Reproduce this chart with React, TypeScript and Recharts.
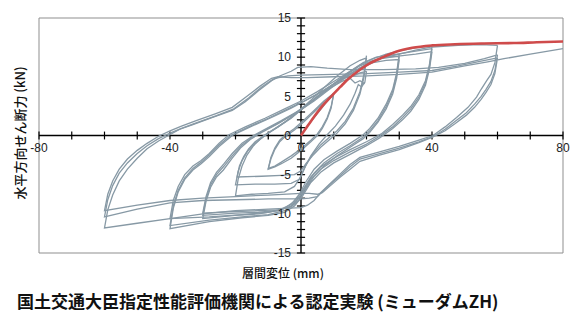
import React from "react";
import {
  CartesianGrid,
  Line,
  LineChart,
  ReferenceDot,
  ReferenceLine,
  XAxis,
  YAxis,
} from "recharts";

type Pt = [number, number];

// axis ticks
const xTicks = [-80, -40, 0, 40, 80];
const yTicks = [-15, -10, -5, 0, 5, 10, 15];
const xMinorTicks = [-80, -70, -60, -50, -40, -30, -20, -10, 10, 20, 30, 40, 50, 60, 70, 80];
const yMinorTicks = [-15, -14, -13, -12, -11, -10, -9, -8, -7, -6, -5, -4, -3, -2, -1, 1, 2, 3, 4, 5, 6, 7, 8, 9, 10, 11, 12, 13, 14, 15];

// hysteresis loops (x: mm, y: kN)
const loop10a: Pt[] = [[0, 0], [2.5, 1.5], [5, 2.8], [7.5, 4.1], [10, 5.3], [9.2, 3.7], [8, 2.3], [6.5, 1.1], [5, 0.2], [3, -0.6], [0, -1.7], [-3, -2.6], [-6, -3.4], [-8, -3.9], [-10, -4.2], [-9.2, -2.8], [-8, -1.6], [-6.5, -0.6], [-5, 0], [-2, 0.9], [1, 2], [4, 3.2], [7, 4.4], [10, 5.4]];
const loop10b: Pt[] = [[10, 5.4], [9.2, 3.5], [8, 2.1], [6.5, 0.9], [5, 0], [3, -0.8], [0, -1.9], [-3, -2.9], [-6, -3.6], [-8, -4], [-10, -4.3], [-9.2, -3], [-8, -1.8], [-6.5, -0.8], [-5, -0.2], [-2, 0.7], [1, 1.8], [4, 3], [7, 4.2], [10, 5.2]];

const loop20a: Pt[] = [[20, 10.2], [19.2, 7.8], [18, 5.6], [16, 3.5], [13.5, 1.8], [11, 0.6], [8.5, -0.3], [6, -1.2], [3.5, -2.4], [1.5, -3.8], [0, -5.2], [-2, -6.5], [-5, -7.2], [-10, -7.4], [-15, -7.5], [-20, -7.7], [-19.2, -5.6], [-18, -3.9], [-16.5, -2.5], [-14.5, -1.3], [-12, -0.3], [-9, 0.6], [-5, 1.7], [-1, 3], [3, 4.5], [7, 6.1], [11, 7.6], [15, 8.9], [18, 9.6], [20, 9.9]];
const loop20b: Pt[] = [[20, 9.9], [19.2, 7.4], [18, 5.3], [16, 3.2], [13.5, 1.5], [11, 0.3], [8.5, -0.6], [6, -1.5], [3.5, -2.6], [1.5, -3.6], [0, -4.5], [-2, -5], [-6, -5.1], [-12, -5.2], [-19.5, -5.3], [-18.8, -3.9], [-17.5, -2.7], [-16, -1.7], [-14, -0.8], [-11, 0.1], [-7, 1.1], [-3, 2.2], [1, 3.6], [5, 5], [9, 6.3], [13, 7.3], [16, 7.6], [18, 8], [20, 8.2]];
const loop20c: Pt[] = [[20, 8.2], [19.5, 6.8], [18.5, 6.2], [17.5, 6.5], [16.5, 5.4], [15, 4], [13, 2.6], [10.5, 1.2], [8, 0.1], [5.5, -1.1], [3, -2.6], [1, -4.2], [-0.5, -5.6], [-3, -6.1], [-8, -6.2], [-14, -6.2], [-20, -6.3], [-19.2, -4.6], [-18, -3.2], [-16.3, -2], [-14, -1], [-11, 0], [-7, 1.1], [-3, 2.3], [1, 3.6], [5, 4.9], [9, 6.1], [12.5, 6.9], [15, 7.3], [16.5, 6.7], [18, 7], [19.5, 6.6]];

const loop30a: Pt[] = [[30, 10.4], [29.2, 8], [28, 5.9], [26, 4], [23.5, 2.2], [21, 0.9], [19, 0.1], [15, -1], [11, -2], [7, -3.1], [4, -4.3], [1.5, -5.9], [-0.5, -7.5], [-3, -8.8], [-7, -9.6], [-13, -10], [-20, -10.2], [-30, -10.6], [-29, -8.4], [-27.6, -6.6], [-25.8, -5.3], [-23.7, -4.4], [-21, -2.9], [-18.5, -1.6], [-15.5, -0.5], [-12, 0.4], [-7, 1.5], [-2, 2.8], [3, 4.3], [8, 5.9], [13, 7.5], [18, 8.9], [22, 9.6], [26, 10], [30, 10.1]];
const loop30b: Pt[] = [[30, 10.1], [29.2, 7.7], [28, 5.6], [26, 3.7], [23.5, 1.9], [21, 0.6], [19, -0.2], [15, -1.3], [11, -2.3], [7, -3.5], [4, -4.8], [1.5, -6.4], [-0.5, -7.9], [-3, -9], [-7, -9.6], [-13, -9.8], [-20, -9.9], [-30, -10.2], [-29, -8.1], [-27.6, -6.3], [-25.8, -5], [-23.5, -3.9], [-21, -2.6], [-18, -1.2], [-14.5, -0.1], [-11, 0.7], [-6, 1.8], [-1, 3], [4, 4.4], [9, 6], [14, 7.5], [18, 8.6], [22, 9.3], [26, 9.6], [30, 9.7]];
const loop30c: Pt[] = [[30, 9.7], [29.2, 7.3], [28, 5.3], [26, 3.4], [23.5, 1.7], [21, 0.4], [19, -0.4], [15, -1.5], [11, -2.6], [7, -3.9], [4, -5.2], [1.5, -6.8], [-0.5, -8.2], [-3, -9.1], [-7, -9.5], [-13, -9.6], [-20, -9.7], [-30, -9.9], [-29, -7.8], [-27.6, -6], [-25.8, -4.7], [-23.5, -3.6], [-21, -2.3], [-18, -1], [-14.5, 0], [-11, 0.8], [-6, 1.9], [-1, 3.1], [4, 4.6], [9, 6.3], [14, 7.9], [18, 9], [22, 9.8], [26, 10.4], [30, 10.8], [35, 11.2], [40, 11.4]];

const loop40a: Pt[] = [[40, 11.4], [39.2, 9], [38, 7], [36, 5.2], [33.5, 3.7], [31, 2.6], [28, 1.4], [24.5, 0.2], [20, -0.8], [15, -1.8], [10, -2.9], [6, -4], [3, -5.3], [0.5, -7], [-2, -8.4], [-5, -9.3], [-10, -9.8], [-18, -10.1], [-28, -10.4], [-40, -10.6], [-39, -8.3], [-37.5, -6.5], [-35.5, -5], [-33, -3.9], [-30.5, -3.2], [-28, -2.3], [-25, -1], [-22, 0.1], [-17, 1.1], [-11, 2.2], [-5, 3.4], [0, 4.4], [5, 5.6], [10, 6.9], [15, 8.2], [19, 9.3], [23, 10], [28, 10.3], [34, 10.7], [40, 11.1]];
const loop40b: Pt[] = [[40, 11.1], [39.2, 8.7], [38, 6.7], [36, 4.9], [33.5, 3.4], [31, 2.3], [28, 1.1], [24, -0.1], [20, -1.1], [15, -2.1], [10, -3.2], [6, -4.3], [3, -5.6], [0.5, -7.3], [-2, -8.7], [-5, -9.6], [-10, -10.1], [-18, -10.4], [-28, -10.8], [-40, -11.5], [-39, -9], [-37.5, -7], [-35.5, -5.4], [-33, -4.2], [-30.5, -3.4], [-28, -2.5], [-25, -1.2], [-21.5, 0], [-16, 1.1], [-10, 2.2], [-4, 3.4], [1, 4.4], [6, 5.5], [11, 6.8], [16, 8.1], [20, 9.1], [24, 9.8], [29, 10.1], [35, 10.4], [40, 10.7]];
const loop40c: Pt[] = [[40, 10.7], [39.2, 8.4], [38, 6.4], [36, 4.6], [33.5, 3.1], [31, 2], [28, 0.9], [24, -0.3], [20, -1.3], [15, -2.4], [10, -3.5], [6, -4.7], [3, -6], [0.5, -7.7], [-2, -9], [-5, -9.8], [-10, -10.2], [-18, -10.5], [-28, -11], [-40, -11.9], [-39, -9.3], [-37.5, -7.2], [-35.5, -5.6], [-33, -4.4], [-30.5, -3.6], [-28, -2.7], [-25, -1.4], [-21, 0], [-15, 1.2], [-9, 2.3], [-3, 3.5], [2, 4.6], [7, 5.8], [12, 7.1], [17, 8.4], [21, 9.3], [25, 9.9], [30, 10.4], [35, 10.9], [40, 11.3], [48, 11.5], [55, 11.6], [60, 11.5]];

const loop60a: Pt[] = [[60, 11.5], [59.2, 9.3], [58, 7.8], [56.7, 7], [55, 5.9], [53.6, 4.9], [51, 3.6], [47.5, 2.3], [44, 1.1], [40.3, 0], [36, -0.6], [30, -1.4], [24, -2.1], [18, -2.8], [15, -3.7], [12, -4.9], [9, -6.1], [6, -7.3], [4, -8.3], [2, -8.9], [0, -9.2], [-10, -9.4], [-20, -9.6], [-30, -10], [-40, -10.6], [-50, -11.2], [-60, -11.8], [-59, -9.5], [-57.5, -7.6], [-55.5, -5.8], [-53, -4.3], [-50, -2.9], [-47, -1.7], [-43.5, -0.7], [-40.5, 0], [-37, 0.8], [-33, 1.4], [-27, 2.3], [-21, 3.2], [-17, 4.3], [-13, 5.7], [-9, 7], [-6.5, 7.6], [-3, 8.2], [-1, 8.7], [3, 8.8], [8, 8.6], [15, 8.4], [25, 8.4], [35, 8.5], [42, 8.7], [50, 9.2], [56, 9.8], [60, 10.3]];
const loop60b: Pt[] = [[60, 10.3], [59.2, 8.3], [58, 6.9], [56.5, 5.9], [55, 5], [53, 4], [50.5, 2.9], [47, 1.8], [44, 0.8], [40.5, -0.1], [36, -0.8], [30, -1.6], [24, -2.3], [18, -3], [15, -4], [12, -5.1], [9, -6.2], [6.5, -7.2], [5, -7.8], [2.5, -8], [0, -8.1], [-10, -8.1], [-20, -8.2], [-30, -8.3], [-40, -8.6], [-50, -9.4], [-60, -10.4], [-59, -8.2], [-57.5, -6.4], [-55.5, -4.8], [-53, -3.5], [-50, -2.3], [-47, -1.3], [-43.5, -0.4], [-40, 0.3], [-36.5, 0.9], [-32, 1.6], [-26, 2.5], [-20.5, 3.4], [-16, 4.8], [-12, 6.2], [-8.5, 7.2], [-6.8, 7.4], [-4, 7.6], [0, 7.7], [10, 7.8], [20, 7.9], [30, 8.1], [40, 8.3], [48, 8.9], [55, 9.5], [60, 9.9]];
const loop60c: Pt[] = [[60, 9.9], [59.2, 7.9], [58, 6.5], [56.5, 5.5], [55, 4.6], [53, 3.6], [50.5, 2.6], [47, 1.5], [44, 0.6], [40.2, -0.2], [36, -0.9], [30, -1.8], [24, -2.5], [18, -3.3], [15, -4.3], [12, -5.3], [9, -6.4], [6.5, -7.3], [5, -7.5], [2.5, -7.4], [0, -7.4], [-10, -7.6], [-20, -7.8], [-30, -8], [-40, -8.3], [-50, -8.9], [-60, -9.6], [-59, -7.5], [-57.5, -5.8], [-55.5, -4.3], [-53, -3], [-50, -1.9], [-47, -1], [-43.5, -0.1], [-40, 0.6], [-36.5, 1.2], [-32, 1.9], [-26, 2.8], [-21, 3.6], [-16.5, 5], [-12.5, 6.3], [-9, 7.3], [-7, 7.5], [-3, 7.4], [2, 7.4], [10, 7.5], [20, 7.6], [30, 7.8], [40, 8.1], [50, 8.9], [57, 9.4], [62, 9.8], [70, 10.4], [80, 11.1]];

// skeleton (envelope) curve
const envelope: Pt[] = [[0, 0], [2, 1.2], [4, 2.4], [6, 3.5], [9, 4.9], [12, 6.2], [14, 7.05], [18, 8.4], [21, 9.2], [24, 9.8], [29, 10.7], [34, 11.2], [40, 11.5], [47, 11.65], [55, 11.75], [65, 11.8], [72, 11.9], [80, 12]];

const loops: Pt[][] = [loop10a, loop10b, loop20a, loop20b, loop20c, loop30a, loop30b, loop30c, loop40a, loop40b, loop40c, loop60a, loop60b, loop60c];

const toRows = (pts: Pt[]) => pts.map(([x, y]) => ({ x, y }));

const tickFont = { fill: "#222", fontSize: 12, fontFamily: "'Liberation Sans', Arial, sans-serif" };
const jpFont = "'Noto Sans CJK JP', 'Noto Sans', sans-serif";

export default function App() {
  return (
    <div style={{ position: "absolute", left: 0, top: 0, width: 581, height: 321, background: "#fff" }}>
      <LineChart width={581} height={321} margin={{ top: 18, right: 18, bottom: 68, left: 39 }}>
        <CartesianGrid stroke="#8f8f8f" strokeWidth={1} />
        <XAxis
          type="number"
          dataKey="x"
          domain={[-80, 80]}
          ticks={xTicks}
          tick={false}
          tickLine={false}
          axisLine={false}
          height={0}
        />
        <YAxis
          type="number"
          domain={[-15, 15]}
          ticks={yTicks}
          tick={false}
          tickLine={false}
          axisLine={false}
          width={0}
        />
        <ReferenceLine x={0} stroke="#000" strokeWidth={1.4} />
        <ReferenceLine y={0} stroke="#000" strokeWidth={1.4} />
        {yMinorTicks.map((v) => (
          <ReferenceLine
            key={`yt${v}`}
            segment={[{ x: -1.25, y: v }, { x: 1.25, y: v }]}
            stroke="#000"
            strokeWidth={1.2}
          />
        ))}
        {xMinorTicks.map((v) => (
          <ReferenceLine
            key={`xt${v}`}
            segment={[{ x: v, y: -0.5 }, { x: v, y: 0.5 }]}
            stroke="#000"
            strokeWidth={1.2}
          />
        ))}
        {loops.map((pts, i) => (
          <Line
            key={`loop${i}`}
            data={toRows(pts)}
            dataKey="y"
            type="linear"
            stroke="#8799a5"
            strokeWidth={1.3}
            dot={false}
            activeDot={false}
            isAnimationActive={false}
          />
        ))}
        <Line
          data={toRows(envelope)}
          dataKey="y"
          type="monotone"
          stroke="#cf4b4b"
          strokeWidth={2.6}
          dot={false}
          activeDot={false}
          isAnimationActive={false}
        />
        {yTicks.map((v) => (
          <ReferenceDot
            key={`yl${v}`}
            x={0}
            y={v}
            r={0}
            fill="none"
            stroke="none"
            label={{ value: String(v), position: "left", offset: 10, ...tickFont }}
          />
        ))}
        {xTicks.map((v) => (
          <ReferenceDot
            key={`xl${v}`}
            x={v}
            y={0}
            r={0}
            fill="none"
            stroke="none"
            label={{ value: String(v), position: "bottom", offset: 8, ...tickFont }}
          />
        ))}
      </LineChart>
      <div
        style={{
          position: "absolute",
          left: 19,
          top: 133,
          transform: "translate(-50%, -50%) rotate(-90deg)",
          whiteSpace: "nowrap",
          fontSize: 13,
          fontWeight: 500,
          fontFamily: jpFont,
          color: "#111",
        }}
      >
        水平方向せん断力 (kN)
      </div>
      <div
        style={{
          position: "absolute",
          left: 283,
          top: 272,
          transform: "translate(-50%, -50%)",
          whiteSpace: "nowrap",
          fontSize: 12,
          fontWeight: 500,
          fontFamily: jpFont,
          color: "#111",
        }}
      >
        層間変位 (mm)
      </div>
      <div
        style={{
          position: "absolute",
          left: 17,
          top: 300,
          transform: "translateY(-50%)",
          whiteSpace: "nowrap",
          fontSize: 17,
          fontWeight: 700,
          fontFamily: jpFont,
          color: "#111",
        }}
      >
        国土交通大臣指定性能評価機関による認定実験 (ミューダムZH)
      </div>
    </div>
  );
}
